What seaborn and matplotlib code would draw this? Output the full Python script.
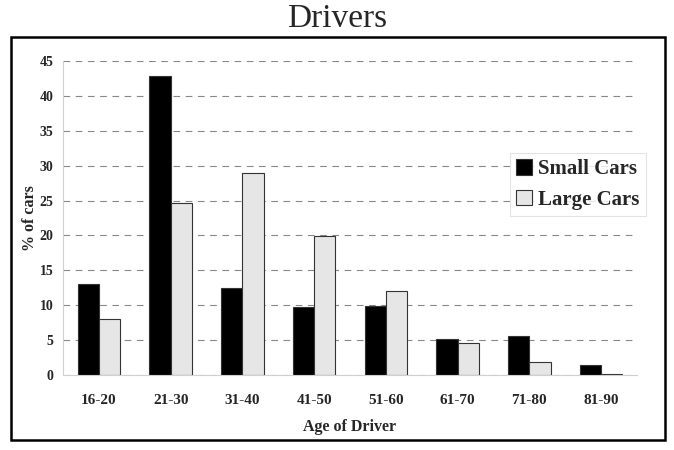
import pandas as pd
import numpy as np
import matplotlib.pyplot as plt
import seaborn as sns
from matplotlib.patches import Rectangle
from matplotlib.ticker import FixedLocator

ages = ["16-20", "21-30", "31-40", "41-50", "51-60", "61-70", "71-80", "81-90"]
small_cars = [13.1, 42.8, 12.4, 9.7, 9.9, 5.2, 5.6, 1.5]
large_cars = [8.0, 24.6, 28.9, 19.9, 12.0, 4.6, 1.8, 0.1]
y_ticks = [0, 5, 10, 15, 20, 25, 30, 35, 40, 45]

df = pd.DataFrame({
    "age": ages * 2,
    "pct": small_cars + large_cars,
    "type": ["Small Cars"] * len(ages) + ["Large Cars"] * len(ages),
})

sns.set_style("white")
plt.rcParams['font.family'] = ['Liberation Serif', 'DejaVu Serif']

fig = plt.figure(figsize=(6.74, 4.5), dpi=100)
ax = fig.add_axes([63 / 674, 75 / 450, 574 / 674, 314 / 450])

sns.barplot(data=df, x="age", y="pct", hue="type", order=ages,
            palette=["black", "#e6e6e6"], width=0.59, ax=ax,
            edgecolor="#333333", linewidth=0.8, saturation=1)

ax.set_ylim(0, 45)
ax.set_xlim(-0.5, len(ages) - 0.5)
ax.set_yticks(y_ticks)
ax.yaxis.grid(True, linestyle=(0, (6, 5)), color="#888888", linewidth=0.8)
ax.set_axisbelow(True)
for s in ["top", "right"]:
    ax.spines[s].set_visible(False)
ax.spines["left"].set_color("#d0d0d0")
ax.spines["bottom"].set_color("#d0d0d0")

ax.tick_params(axis="x", which="major", length=0, pad=14)
ax.xaxis.set_minor_locator(FixedLocator(np.arange(-0.5, len(ages), 1.0)))
ax.tick_params(axis="x", which="minor", length=6, color="#d0d0d0", direction="out")
ax.tick_params(axis="y", length=0, pad=7)
for lab in ax.get_xticklabels():
    lab.set_fontweight("bold")
    lab.set_fontsize(11)
for lab in ax.get_yticklabels():
    lab.set_fontweight("bold")
    lab.set_fontsize(10)

ax.set_xlabel("Age of Driver", fontweight="bold", fontsize=11.5, labelpad=8)
ax.set_ylabel("% of cars", fontweight="bold", fontsize=11.5, labelpad=1)

leg = ax.legend(loc="upper left", bbox_to_anchor=(447 / 574, 222 / 314),
                prop={"weight": "bold", "size": 15}, frameon=True, fancybox=False,
                handlelength=0.75, handleheight=0.75, handletextpad=0.3,
                borderpad=0.3, labelspacing=0.5, borderaxespad=0)
leg.get_frame().set_edgecolor("#dddddd")
leg.get_frame().set_linewidth(0.8)

fig.text(0.5, 1 - 19 / 450, "Drivers", ha="center", va="center", fontsize=24)
fig.patches.append(Rectangle((11 / 674, 10 / 450), 654 / 674, 403 / 450,
                             transform=fig.transFigure, fill=False,
                             edgecolor="black", linewidth=1.8))

plt.savefig("out.png", dpi=100)
